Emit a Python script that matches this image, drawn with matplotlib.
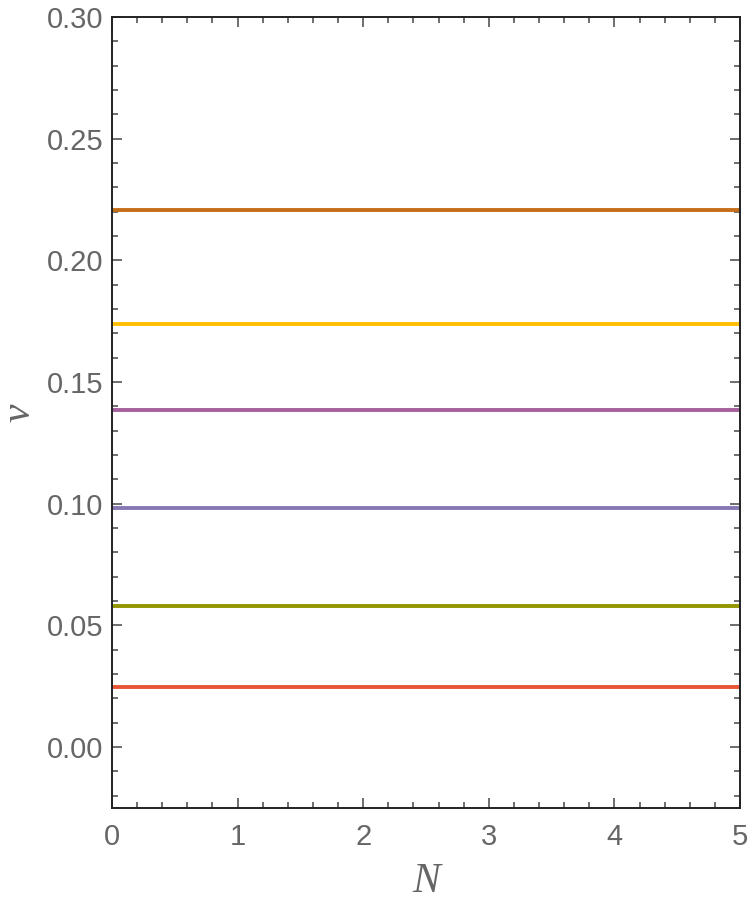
import numpy as np
import matplotlib.pyplot as plt
from matplotlib.ticker import MultipleLocator

# constant levels of nu vs N
n_range = [0, 5]
nu_levels = [0.0247, 0.0582, 0.0984, 0.1385, 0.1737, 0.2207]
colors = ['#E95536', '#929600', '#8778B3', '#A5609D', '#FFBF00', '#C56E1A']

fig = plt.figure(figsize=(7.5, 9), dpi=100)
ax = fig.add_axes([112 / 750, 1 - 808 / 900, (740 - 112) / 750, (808 - 17) / 900])

for nu, c in zip(nu_levels, colors):
    ax.plot(n_range, [nu, nu], color=c, lw=2.8, solid_capstyle='butt')

ax.set_xlim(0, 5)
ax.set_ylim(-0.025, 0.30)
ax.xaxis.set_major_locator(MultipleLocator(1))
ax.xaxis.set_minor_locator(MultipleLocator(0.2))
ax.yaxis.set_major_locator(MultipleLocator(0.05))
ax.yaxis.set_minor_locator(MultipleLocator(0.01))
ax.yaxis.set_major_formatter(plt.FuncFormatter(lambda v, p: f'{v:.2f}'))

for s in ax.spines.values():
    s.set_linewidth(1.4)
    s.set_color('#222222')

ax.tick_params(which='both', direction='in', top=True, right=True,
               color='#555555', width=1.2, labelsize=21, labelcolor='#666666')
ax.tick_params(which='major', length=7)
ax.tick_params(which='minor', length=4)
ax.tick_params(axis='x', pad=11)
ax.tick_params(axis='y', pad=6)
for lab in ax.get_xticklabels() + ax.get_yticklabels():
    lab.set_family('Liberation Sans')

ax.set_xlabel('N', fontsize=30, family='Liberation Serif', style='italic',
              color='#666666', labelpad=8)
ax.set_ylabel('ν', fontsize=30, family='Liberation Serif', style='italic',
              color='#666666', labelpad=6, rotation=90)

plt.savefig('out.png', dpi=100)
